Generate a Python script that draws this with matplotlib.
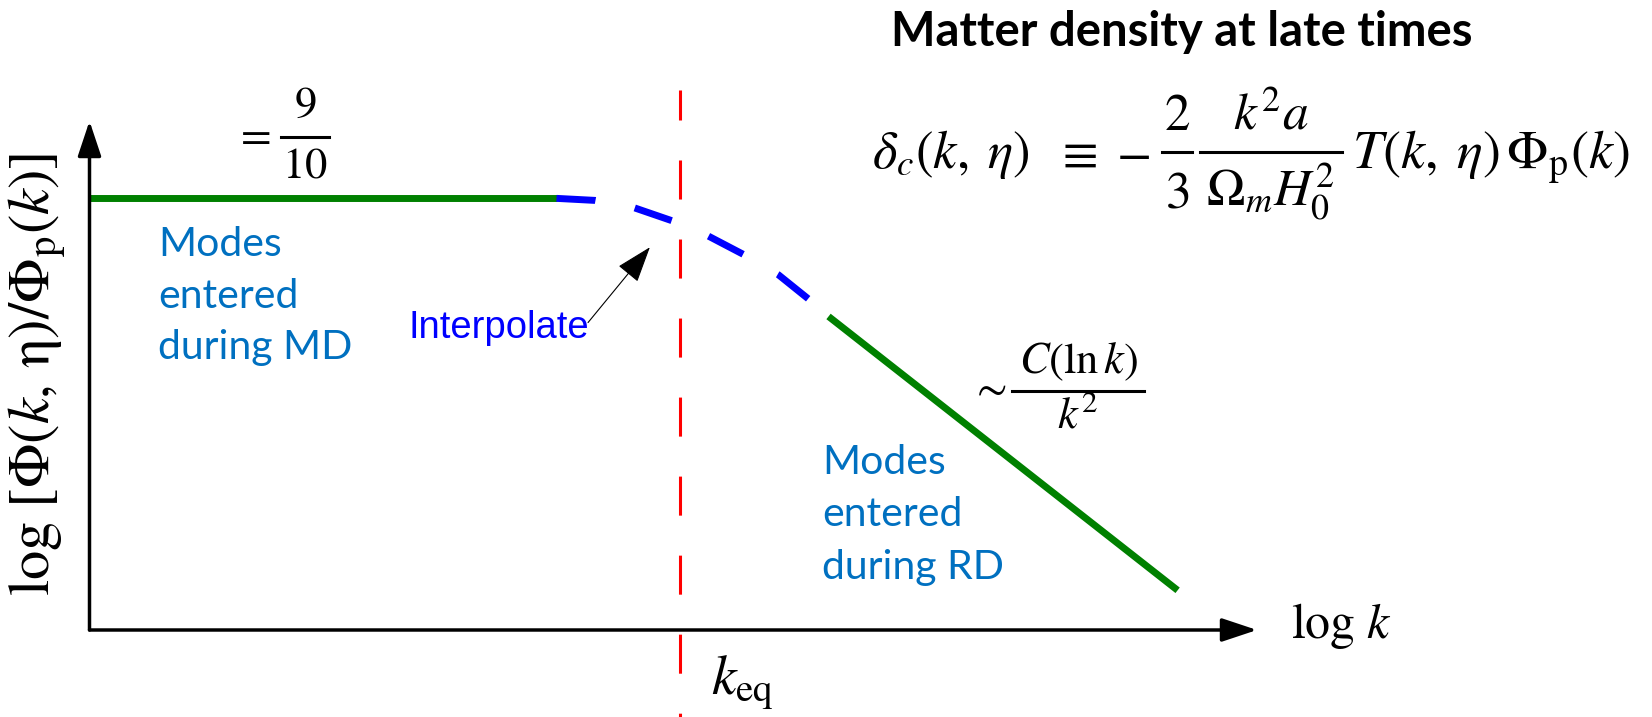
import matplotlib
matplotlib.use('Agg')
import matplotlib.pyplot as plt
from matplotlib.lines import Line2D

plt.rcParams['mathtext.fontset'] = 'stix'
plt.rcParams['lines.scale_dashes'] = False

# schematic transfer function (log k, log ratio) in arbitrary units
flat_k = [0.0, 4.00]
flat_y = [4.24, 4.24]
interp_k = [4.00, 4.33, 4.66, 4.99, 5.30, 5.60, 5.90, 6.16]
interp_y = [4.24, 4.22, 4.15, 4.02, 3.87, 3.69, 3.49, 3.25]
rd_k = [6.33, 9.32]
rd_y = [3.08, 0.39]
k_eq = 5.06
keq_span = [5.30, -0.86]
arrow_tail = (4.27, 3.02)
arrow_tip = (4.80, 3.76)

W, H = 1652, 717
fig = plt.figure(figsize=(W / 100, H / 100), dpi=100)

def fx(px):
    return px / W

def fy(py):
    return 1 - py / H

def frac(xc, x0, x1, ybar, num, den, ynum, yden, size):
    # fraction drawn in pieces, so the gaps match the original typesetting
    fig.text(fx(xc), fy(ynum), num, fontsize=size, ha='center', va='baseline')
    fig.text(fx(xc), fy(yden), den, fontsize=size, ha='center', va='baseline')
    fig.add_artist(Line2D([fx(x0), fx(x1)], [fy(ybar), fy(ybar)],
                          transform=fig.transFigure, lw=2.2, color='black'))

# axes box: origin at the corner of the two arrows
ax = fig.add_axes([fx(89.5), fy(630), fx(1257) - fx(89.5), fy(121) - fy(630)])
ax.set_xlim(0, 10)
ax.set_ylim(0, 5)
ax.axis('off')

green = '#008000'
txt_blue = '#0070C0'

# axis arrows
for end in [(1, 0), (0, 1)]:
    ax.annotate('', xy=end, xytext=(0, 0), xycoords='axes fraction',
                arrowprops=dict(arrowstyle='-|>,head_length=1.08,head_width=0.36',
                                mutation_scale=20, lw=2.5, color='black',
                                shrinkA=0, shrinkB=0), annotation_clip=False)

ax.plot(flat_k, flat_y, color=green, lw=5, solid_capstyle='butt')
ax.plot(interp_k, interp_y, color='#0000FF', lw=5, dash_capstyle='butt',
        linestyle=(0, (28.1, 28.8)))
ax.plot(rd_k, rd_y, color=green, lw=5, solid_capstyle='butt')
ax.plot([k_eq, k_eq], keq_span, color='#FF0000', lw=2.2, clip_on=False,
        dash_capstyle='butt', linestyle=(6.5, (28.1, 28.8)))

ax.annotate('', xy=arrow_tip, xytext=arrow_tail,
            arrowprops=dict(arrowstyle='-|>,head_length=1.15,head_width=0.4',
                            mutation_scale=20, lw=0.8, color='black',
                            shrinkA=0, shrinkB=0))

# = 9/10
fig.text(fx(252), fy(147), r'$=$', fontsize=32, ha='center', va='baseline')
frac(305, 281, 329, 137, r'$9$', r'$10$', 117, 178, 32)

# y label
fig.text(fx(37), fy(374), r'$\log\,[\Phi(k,\,\mathrm{\eta})/\Phi_{\mathrm{p}}(k)]$',
         fontsize=42, rotation=90, ha='center', va='center')

fig.text(fx(158), fy(296), 'Modes\nentered\nduring MD', fontsize=29.5, family='Lato',
         color=txt_blue, ha='left', va='center', linespacing=1.5)
fig.text(fx(408), fy(328), 'Interpolate', fontsize=27.5, family='Liberation Sans',
         color='#0000FF', ha='left', va='center')

# ~ C(ln k)/k^2
fig.text(fx(988), fy(401), r'$\sim$', fontsize=32, ha='center', va='baseline')
frac(1078, 1012, 1144, 391, r'$C(\ln k)$', r'$k^2$', 373, 428, 32)

fig.text(fx(822), fy(515), 'Modes\nentered\nduring RD', fontsize=29.5, family='Lato',
         color=txt_blue, ha='left', va='center', linespacing=1.5)
fig.text(fx(1291), fy(638), r'$\log\,k$', fontsize=36, ha='left', va='baseline')
fig.text(fx(711), fy(695), r'$k_{\mathrm{eq}}$', fontsize=40, ha='left', va='baseline')

fig.text(fx(1182), fy(32), 'Matter density at late times', fontsize=34,
         family='Lato', weight='bold', ha='center', va='center')

# delta_c formula
fig.text(fx(872), fy(168), r'$\delta_c(k,\;\eta)$', fontsize=38, ha='left', va='baseline')
fig.text(fx(1076), fy(168), r'$\equiv$', fontsize=37, ha='center', va='baseline')
fig.text(fx(1133), fy(168), r'$-$', fontsize=37, ha='center', va='baseline')
frac(1177, 1162, 1192, 152, r'$2$', r'$3$', 130, 208, 37)
frac(1271, 1200, 1342, 152, r'$k^2a$', r'$\Omega_m H_0^2$', 130, 206, 37)
fig.text(fx(1352), fy(168), r'$T(k,\;\eta)\,\Phi_{\mathrm{p}}(k)$', fontsize=39,
         ha='left', va='baseline')

fig.savefig('out.png', dpi=100)
